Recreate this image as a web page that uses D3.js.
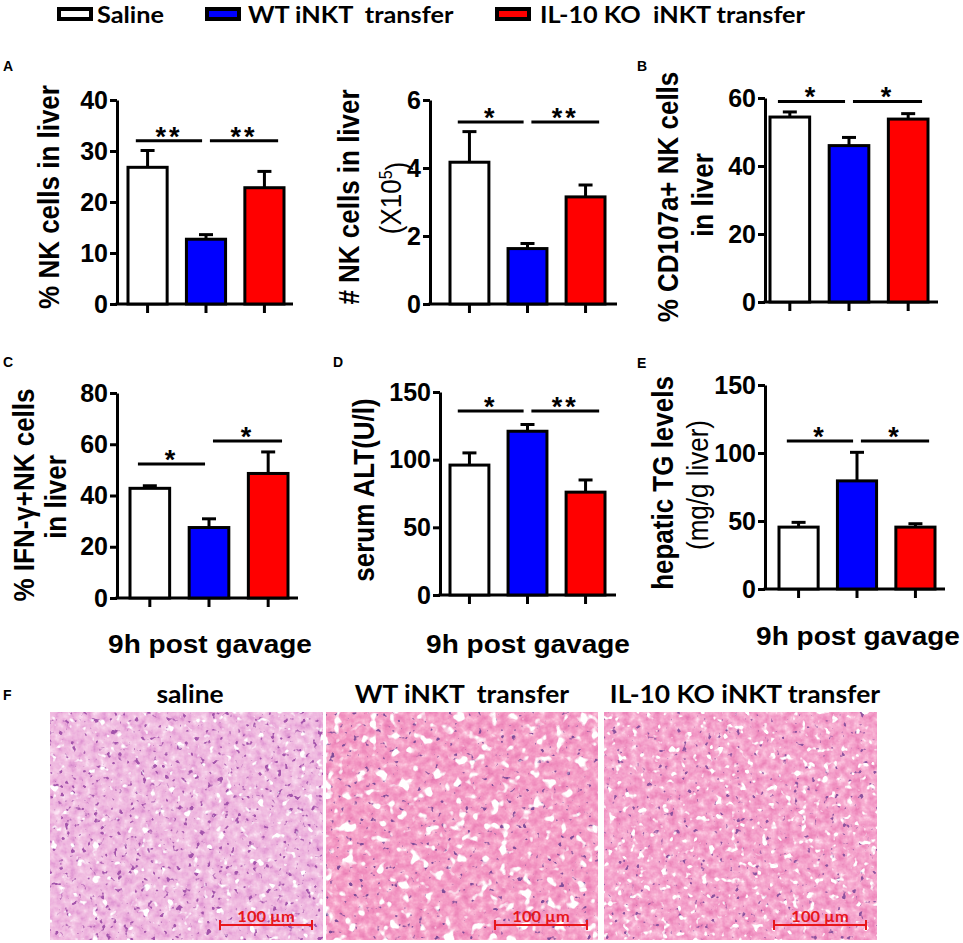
<!DOCTYPE html>
<html>
<head>
<meta charset="utf-8">
<script src="https://cdn.jsdelivr.net/npm/d3@7"></script>
<style>
  body { margin: 0; background: #fff; }
  text { font-family: "Liberation Sans", Arial, sans-serif; }
</style>
</head>
<body>
<svg id="fig"></svg>
<script>
// groups + per-panel values (mean, upper error)
const groups = ['Saline', 'WT iNKT  transfer', 'IL-10 KO  iNKT transfer'];
const histoTitles = ['saline', 'WT iNKT  transfer', 'IL-10 KO iNKT transfer'];

const nkPctMean = [26.8, 12.7, 22.8];
const nkPctErr = [3.3, 0.9, 3.2];
const nkPctTicks = [0, 10, 20, 30, 40];
const nkPctSig = ['**', '**'];

const nkNumMean = [4.17, 1.63, 3.15];
const nkNumErr = [0.9, 0.15, 0.35];
const nkNumTicks = [0, 2, 4, 6];
const nkNumSig = ['*', '**'];

const cd107Mean = [54.4, 46.0, 53.8];
const cd107Err = [1.5, 2.4, 1.6];
const cd107Ticks = [0, 20, 40, 60];
const cd107Sig = ['*', '*'];

const ifngMean = [42.8, 27.5, 48.6];
const ifngErr = [1.0, 3.4, 8.4];
const ifngTicks = [0, 20, 40, 60, 80];
const ifngSig = ['*', '*'];

const altMean = [96, 121, 76];
const altErr = [9, 5, 9];
const altTicks = [0, 50, 100, 150];
const altSig = ['*', '**'];

const tgMean = [45.5, 79.5, 45.5];
const tgErr = [3.5, 21, 2.5];
const tgTicks = [0, 50, 100, 150];
const tgSig = ['*', '*'];

const fills = ['#ffffff', '#0000ff', '#ff0000'];

const svg = d3.select('#fig')
  .attr('width', 963)
  .attr('height', 943);

// the source figure is a little wider than tall, text looks stretched
function placeText(sel, x, y, sx, rot) {
  return sel.attr('transform', `translate(${x},${y}) scale(${sx},1)` + (rot ? ` rotate(${rot})` : ''));
}

// Legend
const legendPos = [{ bx: 59, tx: 97 }, { bx: 207, tx: 248 }, { bx: 497, tx: 540 }];
groups.forEach((g, i) => {
  svg.append('rect')
    .attr('x', legendPos[i].bx).attr('y', 9)
    .attr('width', 32).attr('height', 10)
    .attr('fill', fills[i]).attr('stroke', '#000').attr('stroke-width', 4);
  placeText(svg.append('text'), legendPos[i].tx, 23, 1.1)
    .style('font-family', 'Lato, sans-serif')
    .style('font-weight', 'bold').style('font-size', '23px')
    .style('white-space', 'pre')
    .text(g);
});

// panel layout
const panels = [
  { mean: nkPctMean, err: nkPctErr, ticks: nkPctTicks, sig: nkPctSig, sigAt: [32, 32],
    axisX: 117, axisEnd: 293, y0: 304, yTop: 100, bars: [128, 284],
    letter: { t: 'A', x: 3, y: 71 },
    labels: [{ t: '% NK cells in liver', x: 48, cy: 197 }] },
  { mean: nkNumMean, err: nkNumErr, ticks: nkNumTicks, sig: nkNumSig, sigAt: [5.35, 5.35],
    axisX: 430, axisEnd: 617, y0: 304, yTop: 100, bars: [450, 605],
    labels: [{ t: '# NK cells in liver', x: 348, cy: 197 }, { t: '(X10', sup: '5', tail: ')', x: 390, cy: 198, normal: true }] },
  { mean: cd107Mean, err: cd107Err, ticks: cd107Ticks, sig: cd107Sig, sigAt: [59, 59],
    axisX: 765, axisEnd: 938, y0: 302, yTop: 98, bars: [770, 928],
    letter: { t: 'B', x: 637, y: 71 },
    labels: [{ t: '% CD107a+ NK cells', x: 667, cy: 197 }, { t: 'in liver', x: 702, cy: 195 }] },
  { mean: ifngMean, err: ifngErr, ticks: ifngTicks, sig: ifngSig, sigAt: [52.3, 61.3],
    axisX: 117, axisEnd: 298, y0: 598, yTop: 393, bars: [130, 288],
    letter: { t: 'C', x: 3, y: 367 },
    labels: [{ t: '% IFN-\u03b3+NK cells', x: 23, cy: 495 }, { t: 'in liver', x: 55, cy: 497 }],
    xlab: { x: 210, y: 653 } },
  { mean: altMean, err: altErr, ticks: altTicks, sig: altSig, sigAt: [136, 136],
    axisX: 440, axisEnd: 616, y0: 595, yTop: 392, bars: [450, 605],
    letter: { t: 'D', x: 333, y: 367 },
    labels: [{ t: 'serum ALT(U/l)', x: 363, cy: 490 }],
    xlab: { x: 528, y: 653 } },
  { mean: tgMean, err: tgErr, ticks: tgTicks, sig: tgSig, sigAt: [108.8, 108.8],
    axisX: 765, axisEnd: 945, y0: 589, yTop: 385, bars: [779, 935],
    letter: { t: 'E', x: 637, y: 368 },
    labels: [{ t: 'hepatic TG levels', x: 662, cy: 483 }, { t: '(mg/g liver)', x: 697, cy: 485, normal: true }],
    xlab: { x: 858, y: 645 } }
];

panels.forEach(p => {
  const g = svg.append('g');
  const y = d3.scaleLinear()
    .domain([0, d3.max(p.ticks)])
    .range([p.y0, p.yTop]);
  const x = d3.scaleBand()
    .domain(groups)
    .range(p.bars)
    .paddingInner(0.33)
    .paddingOuter(0);
  const bw = x.bandwidth();

  // y axis
  const ya = g.append('g')
    .attr('transform', `translate(${p.axisX},0)`)
    .call(d3.axisLeft(y).tickValues(p.ticks).tickFormat(d3.format('d'))
      .tickSize(7).tickSizeOuter(0).tickPadding(2));
  ya.select('.domain').attr('stroke-width', 3);
  ya.selectAll('.tick line').attr('stroke-width', 3);
  ya.selectAll('.tick text')
    .style('font-family', '"Liberation Sans", Arial, sans-serif')
    .style('font-weight', 'bold').style('font-size', '25px').attr('fill', '#000');

  // x axis
  const xa = g.append('g')
    .attr('transform', `translate(0,${p.y0})`)
    .call(d3.axisBottom(x).tickSize(9).tickFormat(''));
  xa.select('.domain').remove();
  xa.selectAll('.tick line').attr('stroke-width', 3);
  g.append('line')
    .attr('x1', p.axisX - 1.5).attr('x2', p.axisEnd)
    .attr('y1', p.y0).attr('y2', p.y0)
    .attr('stroke', '#000').attr('stroke-width', 3);

  // error bars (upper only)
  groups.forEach((grp, i) => {
    const cx = x(grp) + bw / 2;
    g.append('line')
      .attr('x1', cx).attr('x2', cx)
      .attr('y1', y(p.mean[i])).attr('y2', y(p.mean[i] + p.err[i]))
      .attr('stroke', '#000').attr('stroke-width', 3);
    g.append('line')
      .attr('x1', cx - 7).attr('x2', cx + 7)
      .attr('y1', y(p.mean[i] + p.err[i])).attr('y2', y(p.mean[i] + p.err[i]))
      .attr('stroke', '#000').attr('stroke-width', 3);
  });

  // bars
  g.selectAll('.bar')
    .data(p.mean)
    .enter()
    .append('rect')
    .attr('class', 'bar')
    .attr('x', (d, i) => x(groups[i]))
    .attr('y', d => y(d))
    .attr('width', bw)
    .attr('height', d => p.y0 - y(d))
    .attr('fill', (d, i) => fills[i])
    .attr('stroke', '#000')
    .attr('stroke-width', 3);

  // significance
  const spans = [
    [x(groups[0]) + 0.2 * bw, x(groups[1]) + 0.4 * bw],
    [x(groups[1]) + 0.6 * bw, x(groups[2]) + 0.85 * bw]
  ];
  spans.forEach((s, k) => {
    const ly = y(p.sigAt[k]);
    g.append('line')
      .attr('x1', s[0]).attr('x2', s[1])
      .attr('y1', ly).attr('y2', ly)
      .attr('stroke', '#000').attr('stroke-width', 3);
    g.append('text')
      .attr('x', (s[0] + s[1]) / 2).attr('y', ly + 5)
      .attr('text-anchor', 'middle')
      .style('font-size', '27px').style('font-weight', 'bold')
      .style('letter-spacing', '3px')
      .text(p.sig[k]);
  });

  // y labels
  p.labels.forEach(l => {
    const t = placeText(g.append('text'), l.x, l.cy, 1.15, -90)
      .attr('text-anchor', 'middle')
      .attr('dy', '0.36em')
      .style('font-size', '26px')
      .style('font-weight', l.normal ? 'normal' : 'bold');
    t.append('tspan').text(l.t);
    if (l.sup) {
      t.append('tspan').attr('dy', '-0.5em').style('font-size', '16px').text(l.sup);
      t.append('tspan').attr('dy', '0.5em').text(l.tail);
    }
  });

  if (p.letter) {
    g.append('text')
      .attr('x', p.letter.x).attr('y', p.letter.y)
      .style('font-size', '14px').style('font-weight', 'bold')
      .text(p.letter.t);
  }
  if (p.xlab) {
    placeText(g.append('text'), p.xlab.x, p.xlab.y, 1.12)
      .attr('text-anchor', 'middle')
      .style('font-size', '25px').style('font-weight', 'bold')
      .text('9h post gavage');
  }
});

// F: H&E liver sections, drawn as procedural texture
const defs = svg.append('defs');
const histo = [
  { x: 50, w: 273, tx: 190, seed: 3, fatF: 0.12, fatT: 6.6, nucT: 6.5, nuc: '0.64 0.33 0.67',
    r: '1 0.99 0.98 0.96 0.95 0.94 0.93 0.91 0.88 0.84 0.8',
    gg: '0.97 0.92 0.86 0.8 0.76 0.73 0.7 0.65 0.6 0.55 0.5',
    b: '0.99 0.97 0.94 0.91 0.89 0.88 0.87 0.85 0.83 0.8 0.78' },
  { x: 326, w: 272, tx: 462, seed: 11, fatF: 0.09, fatT: 6.1, nucT: 6.9, nuc: '0.5 0.3 0.6',
    r: '1 1 0.99 0.98 0.97 0.96 0.95 0.94 0.92 0.9 0.88',
    gg: '0.95 0.88 0.78 0.71 0.66 0.62 0.58 0.55 0.51 0.48 0.45',
    b: '0.98 0.94 0.87 0.83 0.8 0.78 0.76 0.74 0.72 0.7 0.68' },
  { x: 604, w: 273, tx: 745, seed: 23, fatF: 0.13, fatT: 6.4, nucT: 6.9, nuc: '0.55 0.32 0.62',
    r: '1 1 0.99 0.98 0.97 0.96 0.95 0.94 0.92 0.9 0.88',
    gg: '0.95 0.88 0.8 0.73 0.68 0.64 0.6 0.56 0.52 0.48 0.45',
    b: '0.98 0.95 0.89 0.85 0.82 0.8 0.78 0.75 0.73 0.71 0.69' }
];
const imgY = 712, imgH = 228;

histo.forEach((h, i) => {
  const f = defs.append('filter')
    .attr('id', 'he' + i)
    .attr('x', 0).attr('y', 0).attr('width', 1).attr('height', 1)
    .attr('color-interpolation-filters', 'sRGB');
  // cytoplasm tone
  f.append('feTurbulence')
    .attr('type', 'fractalNoise').attr('baseFrequency', 0.13)
    .attr('numOctaves', 3).attr('seed', h.seed).attr('result', 'n');
  f.append('feColorMatrix')
    .attr('in', 'n').attr('type', 'matrix')
    .attr('values', '1 0 0 0 0 1 0 0 0 0 1 0 0 0 0 0 0 0 0 1').attr('result', 'gray');
  const ct = f.append('feComponentTransfer').attr('in', 'gray').attr('result', 'tone');
  ct.append('feFuncR').attr('type', 'table').attr('tableValues', h.r);
  ct.append('feFuncG').attr('type', 'table').attr('tableValues', h.gg);
  ct.append('feFuncB').attr('type', 'table').attr('tableValues', h.b);
  // fat vacuoles
  f.append('feTurbulence')
    .attr('type', 'fractalNoise').attr('baseFrequency', h.fatF)
    .attr('numOctaves', 2).attr('seed', h.seed + 5).attr('result', 'n2');
  f.append('feColorMatrix')
    .attr('in', 'n2').attr('type', 'matrix')
    .attr('values', `0 0 0 0 1 0 0 0 0 1 0 0 0 0 1 10 0 0 0 -${h.fatT}`).attr('result', 'fat');
  // nuclei
  const nc = h.nuc.split(' ');
  f.append('feTurbulence')
    .attr('type', 'fractalNoise').attr('baseFrequency', 0.17)
    .attr('numOctaves', 2).attr('seed', h.seed + 9).attr('result', 'n3');
  f.append('feColorMatrix')
    .attr('in', 'n3').attr('type', 'matrix')
    .attr('values', `0 0 0 0 ${nc[0]} 0 0 0 0 ${nc[1]} 0 0 0 0 ${nc[2]} 10 0 0 0 -${h.nucT}`).attr('result', 'nuc');
  const m = f.append('feMerge');
  m.append('feMergeNode').attr('in', 'tone');
  m.append('feMergeNode').attr('in', 'nuc');
  m.append('feMergeNode').attr('in', 'fat');

  svg.append('rect')
    .attr('x', h.x).attr('y', imgY)
    .attr('width', h.w).attr('height', imgH)
    .attr('fill', '#f3c0dc')
    .attr('filter', `url(#he${i})`);

  placeText(svg.append('text'), h.tx, 703, 1.1)
    .attr('text-anchor', 'middle')
    .style('font-family', 'Lato, sans-serif')
    .style('font-weight', 'bold').style('font-size', '24px')
    .style('white-space', 'pre')
    .text(histoTitles[i]);

  // scale bar
  const x2 = h.x + h.w - 11, x1 = x2 - 92, by = imgY + imgH - 15;
  const sb = svg.append('g').attr('stroke', '#e8161b').attr('stroke-width', 2);
  sb.append('line').attr('x1', x1).attr('x2', x2).attr('y1', by).attr('y2', by);
  sb.append('line').attr('x1', x1).attr('x2', x1).attr('y1', by - 5).attr('y2', by + 5);
  sb.append('line').attr('x1', x2).attr('x2', x2).attr('y1', by - 5).attr('y2', by + 5);
  placeText(svg.append('text'), (x1 + x2) / 2, by - 3, 1.1)
    .attr('text-anchor', 'middle')
    .attr('fill', '#e8161b')
    .style('font-family', 'Lato, sans-serif')
    .style('font-weight', 'bold').style('font-size', '15px')
    .text('100 \u00b5m');
});

svg.append('text')
  .attr('x', 3).attr('y', 700)
  .style('font-size', '14px').style('font-weight', 'bold')
  .text('F');
</script>
</body>
</html>
